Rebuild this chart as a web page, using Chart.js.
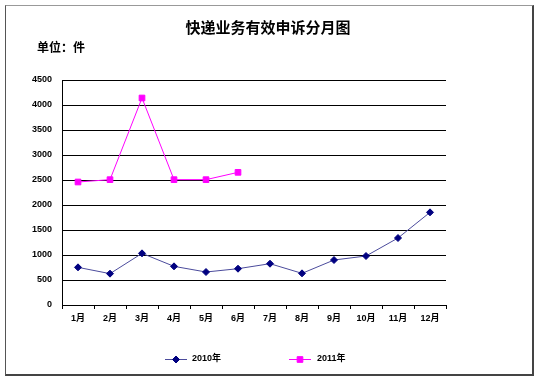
<!DOCTYPE html>
<html>
<head>
<meta charset="utf-8">
<script src="https://cdn.jsdelivr.net/npm/chart.js@4"></script>
<style>
html,body{margin:0;padding:0;background:#fff;}
#wrap{position:relative;width:540px;height:382px;}
#frame{position:absolute;left:5px;top:5px;width:526px;height:368px;border:1px solid #555;border-top-color:#999;border-right:2px solid #444;border-bottom:2px solid #444;box-sizing:content-box;}
canvas{position:absolute;left:0;top:0;}
</style>
</head>
<body>
<div id="wrap"><div id="frame"></div><canvas id="c" width="540" height="382"></canvas></div>
<script>
const categories = ['1月','2月','3月','4月','5月','6月','7月','8月','9月','10月','11月','12月'];
const series2010 = [753, 627, 1033, 773, 660, 726, 826, 633, 900, 980, 1340, 1853];
const series2011 = [2460, 2507, 4140, 2507, 2507, 2653, null, null, null, null, null, null];
const yTicks = [0, 500, 1000, 1500, 2000, 2500, 3000, 3500, 4000, 4500];
const titleText = '快递业务有效申诉分月图';
const unitText = '单位：件';
const seriesNames = ['2010年', '2011年'];

const FONT = '"Liberation Sans", Arial, "Noto Sans CJK SC", sans-serif';
const CJK = '"Noto Sans CJK SC", "Liberation Sans", sans-serif';

const decor = {
  id: 'decor',
  afterDraw(chart) {
    const ctx = chart.ctx;
    ctx.save();
    ctx.fillStyle = '#000';
    ctx.textBaseline = 'middle';
    ctx.textAlign = 'center';
    ctx.font = 'bold 15px ' + CJK;
    ctx.fillText(titleText, 268, 27);
    ctx.textAlign = 'left';
    ctx.font = 'bold 12px ' + CJK;
    ctx.fillText(unitText, 37, 47);
    // legend
    const items = [
      {x1: 165, x2: 187, text: seriesNames[0], ds: chart.data.datasets[0], tx: 192},
      {x1: 289, x2: 311, text: seriesNames[1], ds: chart.data.datasets[1], tx: 317}
    ];
    const ly = 359;
    items.forEach(it => {
      ctx.strokeStyle = it.ds.borderColor;
      ctx.lineWidth = 1;
      ctx.beginPath();
      ctx.moveTo(it.x1, ly + 0.5);
      ctx.lineTo(it.x2, ly + 0.5);
      ctx.stroke();
      ctx.fillStyle = it.ds.pointBackgroundColor;
      ctx.strokeStyle = it.ds.pointBorderColor;
      Chart.helpers.drawPoint(ctx, {pointStyle: it.ds.pointStyle, radius: it.ds.pointRadius, borderWidth: 1, rotation: 0}, (it.x1 + it.x2) / 2, ly + 0.5);
      ctx.fillStyle = '#000';
      ctx.font = 'bold 9px ' + FONT;
      ctx.textAlign = 'left';
      ctx.fillText(it.text, it.tx, ly);
    });
    ctx.restore();
  }
};

new Chart(document.getElementById('c'), {
  type: 'line',
  data: {
    labels: categories,
    datasets: [
      {
        label: seriesNames[0],
        data: series2010,
        borderColor: '#4b4b9c',
        backgroundColor: '#000080',
        pointBackgroundColor: '#000080',
        pointBorderColor: '#000080',
        pointStyle: 'rectRot',
        pointRadius: 3.5,
        borderWidth: 1,
        tension: 0,
        spanGaps: false
      },
      {
        label: seriesNames[1],
        data: series2011,
        borderColor: '#ff00ff',
        backgroundColor: '#ff00ff',
        pointBackgroundColor: '#ff00ff',
        pointBorderColor: '#ff00ff',
        pointStyle: 'rect',
        pointRadius: 4,
        borderWidth: 1,
        tension: 0,
        spanGaps: false
      }
    ]
  },
  options: {
    responsive: false,
    animation: false,
    events: [],
    layout: {padding: {left: 0, right: 94, top: 80, bottom: 0}},
    plugins: {legend: {display: false}, title: {display: false}, tooltip: {enabled: false}},
    scales: {
      x: {
        offset: true,
        afterFit(s) { s.height = 77; },
        grid: {display: true, drawOnChartArea: false, drawTicks: true, tickLength: 4, color: '#000', offset: true},
        border: {display: true, color: '#000', width: 1},
        ticks: {color: '#000', font: {family: FONT, size: 9, weight: 'bold'}, padding: 4, maxRotation: 0, autoSkip: false}
      },
      y: {
        min: 0, max: 4500,
        afterFit(s) { s.width = 62; },
        afterBuildTicks(s) { s.ticks = yTicks.map(v => ({value: v})); },
        grid: {color: '#000', lineWidth: 1, drawTicks: false},
        border: {display: true, color: '#000', width: 1},
        ticks: {color: '#000', font: {family: FONT, size: 9, weight: 'bold'}, padding: 10, callback: v => String(v)}
      }
    }
  },
  plugins: [decor]
});
</script>
</body>
</html>
